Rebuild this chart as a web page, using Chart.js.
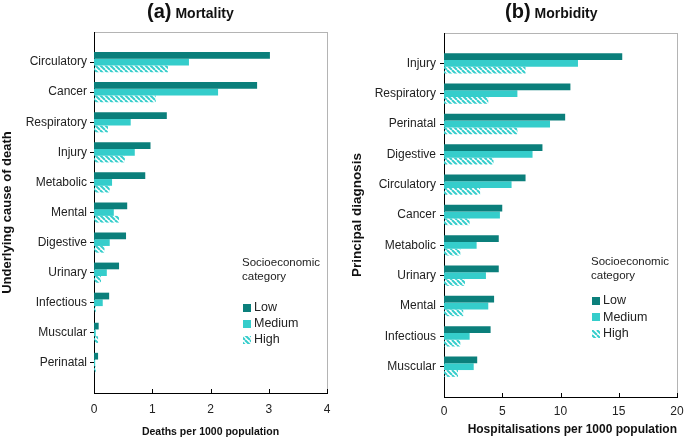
<!DOCTYPE html>
<html>
<head>
<meta charset="utf-8">
<title>Mortality and morbidity by socioeconomic category</title>
<script src="https://cdn.jsdelivr.net/npm/chart.js"></script>
<style>
  body { margin: 0; background: #fff; }
  #wrap { position: relative; width: 685px; height: 438px; }
  #graficaA { position: absolute; left: 0; top: 0; }
  #graficaB { position: absolute; left: 342px; top: 0; }
</style>
</head>
<body>
<div id="wrap">
  <canvas id="graficaA" width="342" height="438"></canvas>
  <canvas id="graficaB" width="343" height="438"></canvas>
</div>
<script>
// (a) Mortality - deaths per 1000 population
const causasMuerte = ['Circulatory', 'Cancer', 'Respiratory', 'Injury', 'Metabolic', 'Mental', 'Digestive', 'Urinary', 'Infectious', 'Muscular', 'Perinatal'];
const muerteBajo  = [3.02, 2.80, 1.25, 0.97, 0.88, 0.57, 0.55, 0.43, 0.26, 0.08, 0.07];
const muerteMedio = [1.63, 2.13, 0.63, 0.70, 0.31, 0.34, 0.27, 0.22, 0.15, 0.03, 0.02];
const muerteAlto  = [1.27, 1.06, 0.24, 0.53, 0.27, 0.43, 0.18, 0.12, 0.03, 0.07, 0.03];
const ticksMuerte = [0, 1, 2, 3, 4];

// (b) Morbidity - hospitalisations per 1000 population
const diagnosticos = ['Injury', 'Respiratory', 'Perinatal', 'Digestive', 'Circulatory', 'Cancer', 'Metabolic', 'Urinary', 'Mental', 'Infectious', 'Muscular'];
const hospBajo  = [15.3, 10.85, 10.4, 8.45, 7.0, 5.0, 4.7, 4.7, 4.3, 4.0, 2.85];
const hospMedio = [11.5, 6.3, 9.1, 7.6, 5.8, 4.8, 2.8, 3.6, 3.8, 2.2, 2.55];
const hospAlto  = [7.0, 3.8, 6.3, 4.25, 3.1, 2.2, 1.4, 1.8, 1.65, 1.4, 1.2];
const ticksHosp = [0, 5, 10, 15, 20];

const categorias = ['Low', 'Medium', 'High'];

const FUENTE = '"Liberation Sans", Arial, Helvetica, sans-serif';
const OSCURO = '#0b7f7b';
const CLARO = '#35cdcb';

// rayas diagonales para la categoria "High"
function rayado(ctx, color) {
    const c = document.createElement('canvas');
    c.width = 5; c.height = 5;
    const g = c.getContext('2d');
    g.strokeStyle = color;
    g.lineWidth = 2;
    for (const k of [-5, 0, 5]) {
        g.beginPath(); g.moveTo(k, 0); g.lineTo(k + 5, 5); g.stroke();
    }
    return ctx.createPattern(c, 'repeat');
}

// marco gris, titulo, leyenda y marcas interiores del eje x
const decoracion = {
    id: 'decoracion',
    beforeDraw(chart) {
        const { ctx, chartArea: a } = chart;
        ctx.save();
        ctx.strokeStyle = '#b4b4b4';
        ctx.lineWidth = 1;
        ctx.strokeRect(a.left + 0.5, a.top + 0.5, a.right - a.left, a.bottom - a.top);
        ctx.restore();
    },
    afterDraw(chart, args, o) {
        const { ctx, chartArea: a } = chart;
        const x = chart.scales.x;
        ctx.save();
        ctx.strokeStyle = '#000';
        ctx.lineWidth = 1;
        x.ticks.forEach(t => {
            const px = Math.round(x.getPixelForValue(t.value)) + 0.5;
            ctx.beginPath(); ctx.moveTo(px, a.bottom); ctx.lineTo(px, a.bottom - 4); ctx.stroke();
        });

        // titulo
        ctx.fillStyle = '#111';
        ctx.textBaseline = 'alphabetic';
        ctx.textAlign = 'left';
        ctx.font = 'bold 20px ' + FUENTE;
        ctx.fillText(o.letra, o.tx, 18);
        const w = ctx.measureText(o.letra).width;
        ctx.font = 'bold 14px ' + FUENTE;
        ctx.fillText(o.nombre, o.tx + w + 4, 18);

        // leyenda
        const lx = a.left + o.lx;
        ctx.fillStyle = '#222';
        ctx.textBaseline = 'middle';
        ctx.font = '11.5px ' + FUENTE;
        ctx.fillText('Socioeconomic', lx, a.top + o.ly);
        ctx.fillText('category', lx, a.top + o.ly + 14);
        ctx.font = '12.5px ' + FUENTE;
        chart.data.datasets.forEach((ds, i) => {
            const y = a.top + o.fila0 + i * o.paso;
            ctx.fillStyle = ds.backgroundColor;
            ctx.fillRect(lx + 1, Math.round(y - 4), 8, 8);
            ctx.fillStyle = '#222';
            ctx.fillText(ds.label, lx + 12, y);
        });
        ctx.restore();
    }
};

function crearGrafica(id, etiquetas, bajo, medio, alto, ticks, cfg) {
    const ctx = document.getElementById(id).getContext('2d');
    const relleno = arr => [null, ...arr, null];
    return new Chart(ctx, {
        type: 'bar',
        data: {
            labels: ['', ...etiquetas, ''],
            datasets: [
                { label: categorias[0], data: relleno(bajo), backgroundColor: OSCURO },
                { label: categorias[1], data: relleno(medio), backgroundColor: CLARO },
                { label: categorias[2], data: relleno(alto), backgroundColor: rayado(ctx, CLARO) }
            ]
        },
        options: {
            indexAxis: 'y',
            responsive: false,
            animation: false,
            categoryPercentage: 0.67,
            barPercentage: 1.0,
            layout: { padding: { top: cfg.arriba, right: cfg.derecha, left: 0, bottom: 0 } },
            plugins: {
                legend: { display: false },
                tooltip: { enabled: false },
                decoracion: cfg.deco
            },
            scales: {
                x: {
                    type: 'linear',
                    min: ticks[0],
                    max: ticks[ticks.length - 1],
                    ticks: { stepSize: ticks[1] - ticks[0], padding: cfg.padXTick, color: '#222', font: { family: FUENTE, size: 12 } },
                    grid: { display: false },
                    border: { color: '#000', width: 1 },
                    title: { display: true, text: cfg.tituloX, align: cfg.alinX, color: '#111', padding: { top: 0, bottom: cfg.padX }, font: { family: FUENTE, size: cfg.tamX, weight: 'bold' } },
                    afterFit: s => { s.height = cfg.altoX; s.paddingLeft = 0; s.paddingRight = 0; }
                },
                y: {
                    offset: false,
                    ticks: { autoSkip: false, padding: cfg.padTick, color: '#222', font: { family: FUENTE, size: 12 } },
                    grid: {
                        offset: false,
                        drawOnChartArea: false,
                        drawTicks: true,
                        tickLength: 4,
                        tickColor: c => (c.tick && c.tick.label === '') ? 'rgba(0,0,0,0)' : '#000'
                    },
                    border: { color: '#000', width: 1 },
                    title: { display: true, text: cfg.tituloY, color: '#111', padding: { top: cfg.padY, bottom: 0 }, font: { family: FUENTE, size: cfg.tamY, weight: 'bold' } },
                    afterFit: s => { s.width = cfg.anchoY; s.paddingTop = 0; s.paddingBottom = 0; }
                }
            }
        },
        plugins: [decoracion]
    });
}

crearGrafica('graficaA', causasMuerte, muerteBajo, muerteMedio, muerteAlto, ticksMuerte, {
    arriba: 32, derecha: 15, anchoY: 94, altoX: 45, padTick: 3, padXTick: 1,
    tituloX: 'Deaths per 1000 population', tamX: 10.5, padX: 0, alinX: 'center',
    tituloY: 'Underlying cause of death', tamY: 13, padY: 0,
    deco: { letra: '(a)', nombre: 'Mortality', tx: 147, lx: 148, ly: 231, fila0: 276, paso: 16 }
});

crearGrafica('graficaB', diagnosticos, hospBajo, hospMedio, hospAlto, ticksHosp, {
    arriba: 33, derecha: 8, anchoY: 102, altoX: 41, padTick: 4, padXTick: -1,
    tituloX: 'Hospitalisations per 1000 population', tamX: 12, padX: 1, alinX: 'end',
    tituloY: 'Principal diagnosis', tamY: 13.5, padY: 7,
    deco: { letra: '(b)', nombre: 'Morbidity', tx: 163, lx: 147, ly: 229, fila0: 268, paso: 16.3 }
});
</script>
</body>
</html>
